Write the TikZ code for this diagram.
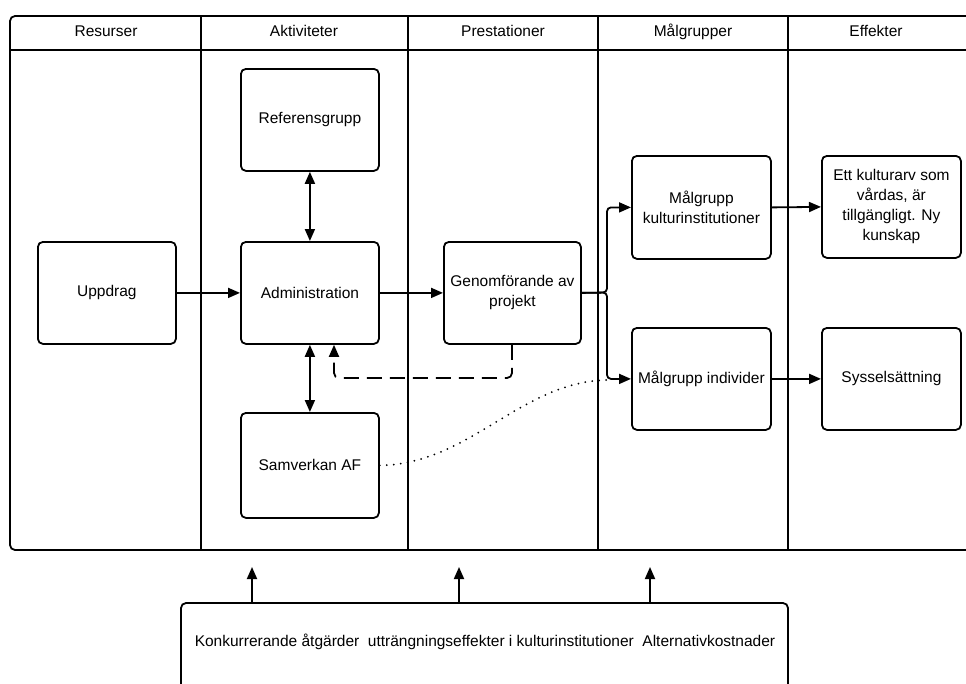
\documentclass[tikz,border=0pt]{standalone}
\usepackage{fontspec}
\setmainfont{Liberation Sans}
\usetikzlibrary{arrows.meta}
\begin{document}
\begin{tikzpicture}[x=1pt,y=-1pt,
  line width=1.8pt,
  box/.style={draw, rounded corners=5pt, minimum width=138pt, minimum height=102pt, align=center, inner sep=2pt, font=\fontsize{15.5}{20}\selectfont, anchor=north west},
  hdr/.style={font=\fontsize{15.5}{18}\selectfont, text height=11pt, text depth=3.5pt},
  arr/.style={-{Triangle[length=12pt,width=10pt]}},
  darr/.style={{Triangle[length=12pt,width=10pt]}-{Triangle[length=12pt,width=10pt]}}]
\useasboundingbox (0,0) rectangle (966,683);
\begin{scope}
\clip (0,0) rectangle (966,683);
% table frame
\draw[rounded corners=5pt] (1000,16) -- (10,16) -- (10,550) -- (1000,550);
\draw (10,50) -- (1000,50);
\foreach \x in {201,408,598,788} \draw (\x,16) -- (\x,550);
% headers
\node[hdr] (h1) at (106,33) {Resurser};
\node[hdr] (h2) at (304,33) {Aktiviteter};
\node[hdr] (h3) at (503,33) {Prestationer};
\node[hdr] (h4) at (693,33) {Målgrupper};
\node[hdr] (h5) at (876,33) {Effekter};
% bottom box
\draw[rounded corners=5pt] (181,720) -- (181,603) -- (788,603) -- (788,720);
\node[font=\fontsize{15.5}{18}\selectfont] (bottom) at (485,642) {Konkurrerande åtgärder\ \ utträngningseffekter i kulturinstitutioner\ \ Alternativkostnader};
\coordinate (b1) at (252,603);
\coordinate (b2) at (459,603);
\coordinate (b3) at (650,603);
\coordinate (t1) at (252,567);
\coordinate (t2) at (459,567);
\coordinate (t3) at (650,567);
\draw[arr] (b1) -- (t1);
\draw[arr] (b2) -- (t2);
\draw[arr] (b3) -- (t3);
\end{scope}
% boxes
\node[box] (ref) at (240,68) {Referensgrupp};
\node[box] (adm) at (240,241) {Administration};
\node[box, minimum height=105pt] (sam) at (240,412) {Samverkan AF};
\node[box] (upp) at (37,241) {Uppdrag};
\node[box, minimum width=137pt] (gen) at (443,241) {Genomförande av\\projekt};
\node[box, minimum width=139pt, minimum height=103pt] (mk) at (631,155) {Målgrupp\\kulturinstitutioner};
\node[box, minimum width=139pt] (mi) at (631,327) {Målgrupp individer};
\node[box, minimum width=139pt] (eff1) at (821,155) {Ett kulturarv som\\vårdas, är\\tillgängligt. Ny\\kunskap};
\node[box, minimum width=139pt] (eff2) at (821,327) {Sysselsättning};
% connectors
\draw[arr] (upp.east) -- (adm.west);
\draw[arr] (adm.east) -- (gen.west);
\draw[darr] (ref.south) -- (adm.north);
\draw[darr] (adm.south) -- (sam.north);
\coordinate (split) at (607,292.5);
\draw[arr, rounded corners=4pt] (gen.east) -- (split) |- (mk.west);
\draw[arr, rounded corners=4pt] (gen.east) -- (split) |- (mi.west);
\draw[arr] (mk.east) -- (eff1.west);
\draw[arr] (mi.east) -- (eff2.west);
\coordinate (d1) at (512,378);
\coordinate (d2) at (334,378);
\draw[arr, dash pattern=on 15pt off 8pt, rounded corners=5pt] (gen.south -| d1) -- (d1) -- (d2) -- (adm.south -| d2);
\coordinate (dend) at (607,380);
\draw[line width=2pt, dash pattern=on 0pt off 7pt, line cap=round] (sam.east) .. controls (470,464) and (520,382) .. (dend);
\end{tikzpicture}
\end{document}
